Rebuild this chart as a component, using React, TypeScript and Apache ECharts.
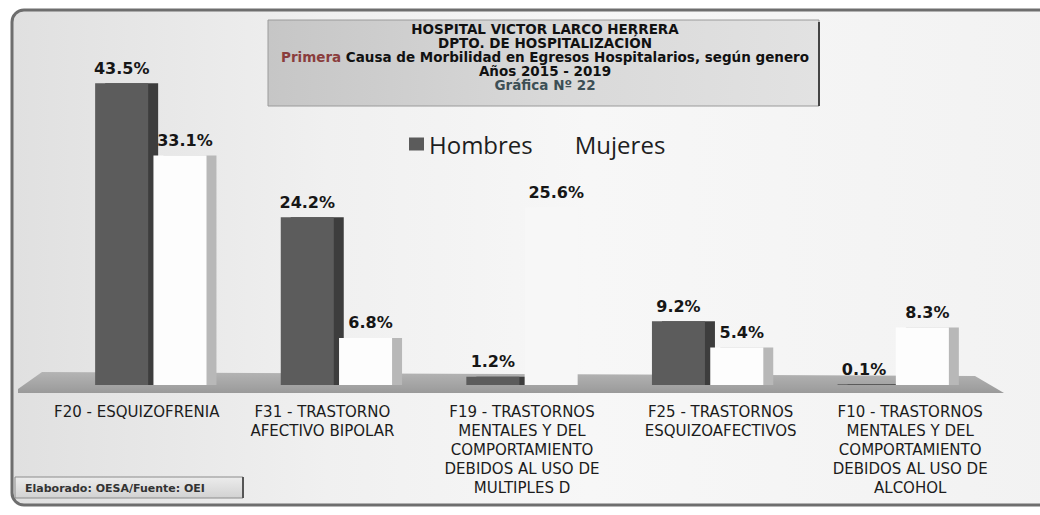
import React, { useEffect, useRef } from "react";
import * as echarts from "echarts";

const categories = [
  "F20 - ESQUIZOFRENIA",
  "F31 - TRASTORNO\nAFECTIVO BIPOLAR",
  "F19 - TRASTORNOS\nMENTALES Y DEL\nCOMPORTAMIENTO\nDEBIDOS AL USO DE\nMULTIPLES D",
  "F25 - TRASTORNOS\nESQUIZOAFECTIVOS",
  "F10 - TRASTORNOS\nMENTALES Y DEL\nCOMPORTAMIENTO\nDEBIDOS AL USO DE\nALCOHOL",
];
const seriesNames = ["Hombres", "Mujeres"];
const hombres = [43.5, 24.2, 1.2, 9.2, 0.1];
const mujeres = [33.1, 6.8, 25.6, 5.4, 8.3];

const titleLines = [
  "HOSPITAL VICTOR LARCO HERRERA",
  "DPTO. DE HOSPITALIZACIÓN",
  "Primera Causa de Morbilidad en Egresos Hospitalarios, según genero",
  "Años 2015 - 2019",
  "Gráfica Nº 22",
];
const footerText = "Elaborado: OESA/Fuente: OEI";

// perspective shift of the category labels (px), styling only
const labelShift = [-14, -14, 0, 13, 17];
// the F19 women's bar blends into the background in the original
const hiddenMujeresIndex = 2;

export default function App() {
  const ref = useRef<HTMLDivElement>(null);
  useEffect(() => {
    if (!ref.current) return;
    const chart = echarts.init(ref.current, undefined, { renderer: "svg" });
    const titleFont = "bold 13.5px 'DejaVu Sans'";
    const axisData = categories.map((c, i) => {
      const s = labelShift[i];
      return {
        value: c,
        textStyle: { padding: s < 0 ? [0, -2 * s, 0, 0] : [0, 0, 0, 2 * s] },
      };
    });
    const mujeresData = mujeres.map((v, i) =>
      i === hiddenMujeresIndex
        ? { value: v, itemStyle: { color: "#f7f7f7", shadowColor: "rgba(0,0,0,0)", shadowOffsetX: 0 } }
        : v
    );
    const titleY = [29, 43, 57, 71, 85];
    const option: any = {
      animation: false,
      backgroundColor: "transparent",
      grid: { left: 58, right: 54, top: 52, bottom: 123 },
      legend: {
        data: [
          { name: seriesNames[0] },
          { name: seriesNames[1], itemStyle: { opacity: 0 } },
        ],
        left: 404,
        top: 127,
        itemWidth: 15,
        itemHeight: 13,
        itemGap: 22,
        icon: "rect",
        textStyle: { fontSize: 24, fontFamily: "'Open Sans'", color: "#1e1e1e" },
      },
      xAxis: {
        type: "category",
        data: axisData,
        axisLine: { show: false, onZero: false },
        axisTick: { show: false },
        axisLabel: {
          interval: 0,
          margin: 10,
          fontFamily: "'DejaVu Sans'",
          fontSize: 15,
          lineHeight: 19,
          color: "#1c1c1c",
          align: "center",
        },
      },
      yAxis: {
        type: "value",
        min: -1,
        max: 48,
        show: false,
        splitLine: { show: false },
      },
      series: [
        {
          name: seriesNames[0],
          type: "bar",
          data: hombres,
          barWidth: 53,
          barGap: "10%",
          itemStyle: {
            color: "#5b5b5b",
            shadowColor: "#3c3c3c",
            shadowOffsetX: 10,
            shadowOffsetY: 0,
            shadowBlur: 0,
          },
          label: {
            show: true,
            position: "top",
            distance: 7,
            formatter: "{c}%",
            fontFamily: "'DejaVu Sans'",
            fontWeight: "bold",
            fontSize: 16,
            color: "#161616",
          },
        },
        {
          name: seriesNames[1],
          type: "bar",
          data: mujeresData,
          barWidth: 53,
          itemStyle: {
            color: "#fdfdfd",
            shadowColor: "#b8b8b8",
            shadowOffsetX: 10,
            shadowOffsetY: 0,
            shadowBlur: 0,
          },
          label: {
            show: true,
            position: "top",
            distance: 7,
            offset: [5, 0],
            formatter: "{c}%",
            fontFamily: "'DejaVu Sans'",
            fontWeight: "bold",
            fontSize: 16,
            color: "#161616",
          },
        },
      ],
      graphic: [
        {
          type: "rect",
          shape: { x: 12, y: 10, width: 1050, height: 495, r: 12 },
          style: {
            fill: new echarts.graphic.LinearGradient(0, 0, 1, 0, [
              { offset: 0, color: "#e0e0e0" },
              { offset: 0.3, color: "#f0f0f0" },
              { offset: 0.55, color: "#f7f7f7" },
              { offset: 1, color: "#f2f2f2" },
            ]),
            stroke: "#6e6e6e",
            lineWidth: 3,
          },
        },
        {
          type: "polygon",
          shape: {
            points: [
              [18, 389],
              [42, 372],
              [975, 376],
              [1004, 393],
              [18, 393],
            ],
          },
          style: {
            fill: new echarts.graphic.LinearGradient(0, 0, 0, 1, [
              { offset: 0, color: "#b4b4b4" },
              { offset: 1, color: "#9a9a9a" },
            ]),
          },
        },
        {
          type: "rect",
          shape: { x: 268, y: 20, width: 551, height: 86 },
          style: {
            fill: new echarts.graphic.LinearGradient(0, 0, 1, 0, [
              { offset: 0, color: "#c6c6c6" },
              { offset: 0.5, color: "#d8d8d8" },
              { offset: 1, color: "#e2e2e2" },
            ]),
            stroke: "#9a9a9a",
            lineWidth: 1,
          },
        },
        {
          type: "line",
          shape: { x1: 819, y1: 22, x2: 819, y2: 106 },
          style: { stroke: "#444", lineWidth: 2 },
        },
        {
          type: "text",
          x: 545,
          y: titleY[0],
          style: { text: titleLines[0], font: titleFont, fill: "#111", align: "center", verticalAlign: "middle" },
        },
        {
          type: "text",
          x: 545,
          y: titleY[1],
          style: { text: titleLines[1], font: titleFont, fill: "#111", align: "center", verticalAlign: "middle" },
        },
        {
          type: "text",
          x: 545,
          y: titleY[2],
          style: {
            text: "{r|Primera} {b|" + titleLines[2].replace("Primera ", "") + "}",
            font: titleFont,
            fill: "#111",
            align: "center",
            verticalAlign: "middle",
            rich: {
              r: { font: titleFont, fill: "#8a3d3d" },
              b: { font: titleFont, fill: "#111" },
            },
          },
        },
        {
          type: "text",
          x: 545,
          y: titleY[3],
          style: { text: titleLines[3], font: titleFont, fill: "#111", align: "center", verticalAlign: "middle" },
        },
        {
          type: "text",
          x: 545,
          y: titleY[4],
          style: { text: titleLines[4], font: titleFont, fill: "#3d4f55", align: "center", verticalAlign: "middle" },
        },
        {
          type: "rect",
          shape: { x: 15, y: 477, width: 228, height: 21 },
          style: {
            fill: new echarts.graphic.LinearGradient(0, 0, 0, 1, [
              { offset: 0, color: "#ececec" },
              { offset: 1, color: "#d2d2d2" },
            ]),
            stroke: "#8c8c8c",
            lineWidth: 1,
          },
        },
        {
          type: "line",
          shape: { x1: 243, y1: 477, x2: 243, y2: 498 },
          style: { stroke: "#555", lineWidth: 2 },
        },
        {
          type: "text",
          x: 25,
          y: 488,
          style: {
            text: footerText,
            font: "bold 11px 'DejaVu Sans'",
            fill: "#333",
            align: "left",
            verticalAlign: "middle",
          },
        },
      ],
    };
    chart.setOption(option);
    return () => chart.dispose();
  }, []);
  return (
    <div
      ref={ref}
      style={{ position: "absolute", left: 0, top: 0, width: 1040, height: 515 }}
    />
  );
}
